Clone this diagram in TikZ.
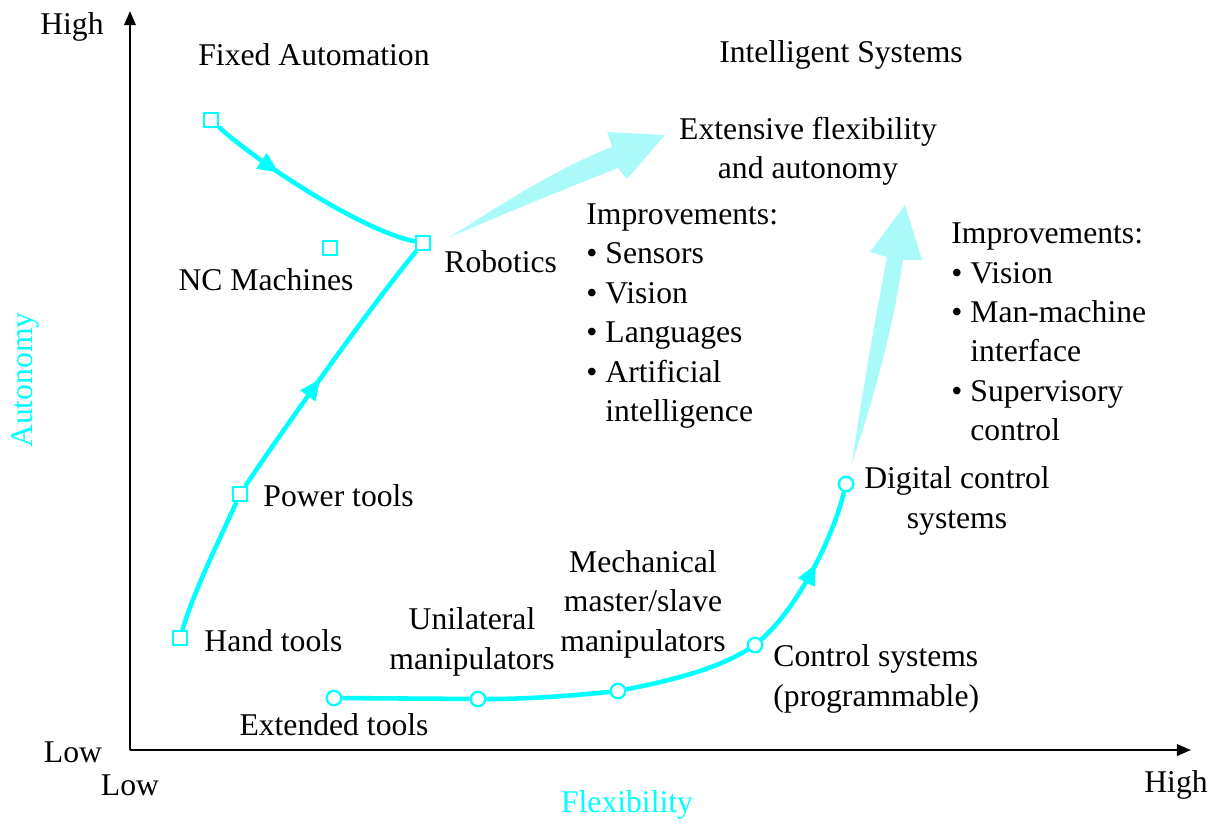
\documentclass[tikz,border=0pt]{standalone}
\usepackage{fontspec}
\setmainfont{Liberation Serif}
\usetikzlibrary{arrows.meta,decorations.markings}
\definecolor{pureCyan}{RGB}{0,255,255}
\definecolor{paleCyan}{RGB}{170,250,250}

\begin{document}
\begin{tikzpicture}[x=0.01cm, y=-0.01cm, font=\fontsize{9}{11.2}\selectfont,
	sq/.style={draw=pureCyan, fill=white, line width=0.65pt, minimum size=0.135cm, inner sep=0pt},
	rd/.style={draw=pureCyan, fill=white, line width=0.65pt, circle, minimum size=0.145cm, inner sep=0pt},
	trend/.style={pureCyan, line width=1.3pt},
	midarrow/.style={postaction={decorate}, decoration={markings,
		mark=at position #1 with {\arrow{Triangle[length=6pt,width=5pt]}}}},
	axis/.style={line width=0.7pt, -{Triangle[length=4pt,width=3.2pt]}}]
	\useasboundingbox (0,0) rectangle (1212,823);
	% axes
	\coordinate (O) at (130,750);
	\coordinate (Ytop) at (130,11);
	\coordinate (Xend) at (1191,750);
	\draw[axis] (O) -- (Ytop);
	\draw[axis] (O) -- (Xend);
	\node (YH) at (72,27) {High};
	\node (YL) at (73,752) {Low};
	\node (XL) at (130,785) {Low};
	\node (XH) at (1176,785) {High};
	\node[pureCyan, rotate=90] (Ya) at (25,380) {Autonomy};
	\node[pureCyan] (Xa) at (627,805) {Flexibility};
	\node (FAt) at (314,55) {Fixed Automation};
	\node (ISt) at (841,55) {Intelligent Systems};
	% wide arrows
	\fill[paleCyan] (450,237) .. controls (515,195) and (565,165) .. (612,147)
		-- (607,132) -- (665,135) -- (627,179) -- (618,168)
		.. controls (572,186) and (518,208) .. (450,237) -- cycle;
	\fill[paleCyan] (852,463) .. controls (864,380) and (877,310) .. (887,257)
		-- (870,252) -- (905,205) -- (922,260) -- (903,260)
		.. controls (894,322) and (876,392) .. (852,463) -- cycle;
	% markers
	\node[sq] (FA) at (211,120) {};
	\node[sq] (RB) at (423,243) {};
	\node[sq] (NC) at (330,248) {};
	\node[sq] (PT) at (240,494) {};
	\node[sq] (HT) at (180,638) {};
	\node[rd] (ET) at (334,698) {};
	\node[rd] (UM) at (478,699) {};
	\node[rd] (MM) at (618,691) {};
	\node[rd] (CS) at (755,645) {};
	\node[rd] (DC) at (846,484) {};
	% curves
	\draw[trend, midarrow=0.33] (FA) .. controls +(50,45) and +(-60,-12) .. (RB);
	\draw[trend] (HT) .. controls +(15,-50) and +(-20,45) .. (PT);
	\draw[trend, midarrow=0.45] (PT) .. controls +(40,-60) and +(-50,60) .. (RB);
	\draw[trend] (ET) -- (UM);
	\draw[trend] (UM) .. controls +(50,0) and +(-50,5) .. (MM);
	\draw[trend] (MM) .. controls +(50,-10) and +(-40,25) .. (CS);
	\draw[trend, midarrow=0.55] (CS) .. controls +(40,-35) and +(-15,60) .. (DC);
	% labels
	\node (NCl) at (266,280) {NC Machines};
	\node[anchor=west] (RBl) at (432,262) {Robotics};
	\node[anchor=west] (PTl) at (251,496) {Power tools};
	\node[anchor=west] (HTl) at (192,641) {Hand tools};
	\node (ETl) at (334,725) {Extended tools};
	\node[align=center] (UMl) at (472,642) {Unilateral\\manipulators};
	\node[align=center] (MMl) at (643,604) {Mechanical\\master/slave\\manipulators};
	\node[anchor=west, align=left] (CSl) at (761,679) {Control systems\\(programmable)};
	\node[align=center] (DCl) at (957,501) {Digital control\\systems};
	\node[align=center] (EFl) at (808,151) {Extensive flexibility\\and autonomy};
	\node[anchor=west, align=left] (IMa) at (574,316) {Improvements:\\
		\textbullet\ Sensors\\\textbullet\ Vision\\\textbullet\ Languages\\
		\textbullet\ Artificial\\\hphantom{\textbullet\ }intelligence};
	\node[anchor=west, align=left] (IMb) at (939,332) {Improvements:\\
		\textbullet\ Vision\\\textbullet\ Man-machine\\\hphantom{\textbullet\ }interface\\
		\textbullet\ Supervisory\\\hphantom{\textbullet\ }control};
\end{tikzpicture}
\end{document}
